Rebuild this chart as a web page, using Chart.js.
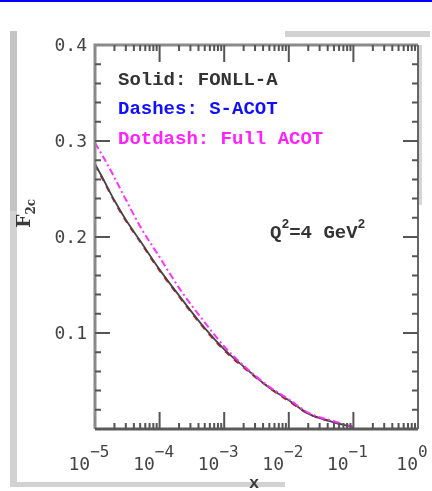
<!DOCTYPE html>
<html>
<head>
<meta charset="utf-8">
<script src="https://cdn.jsdelivr.net/npm/chart.js@4.4.1/dist/chart.umd.min.js"></script>
<style>
  html, body { margin: 0; padding: 0; background: #fff; }
  canvas { display: block; }
</style>
</head>
<body>
<canvas id="f2c-chart" width="432" height="491"></canvas>
<script>
// x values (log scale) and structure function values for each scheme
const xValues = [1e-5, 1.3e-5, 2e-5, 3e-5, 5e-5, 1e-4, 2e-4, 5e-4, 1e-3, 2e-3, 5e-3, 1e-2, 2e-2, 5e-2, 1e-1];
const fonllA  = [0.276, 0.262, 0.238, 0.218, 0.196, 0.166, 0.139, 0.105, 0.083, 0.065, 0.043, 0.030, 0.016, 0.007, 0.002];
const sAcot   = [0.275, 0.261, 0.237, 0.217, 0.195, 0.165, 0.138, 0.104, 0.082, 0.064, 0.043, 0.029, 0.016, 0.007, 0.002];
const fullAcot = [0.298, 0.285, 0.262, 0.239, 0.211, 0.179, 0.147, 0.111, 0.086, 0.066, 0.044, 0.031, 0.017, 0.008, 0.002];

// axis ticks
const yMajor = [0.1, 0.2, 0.3, 0.4];
const yMajorLabels = ['0.1', '0.2', '0.3', '0.4'];
const xDecades = [-5, -4, -3, -2, -1, 0];

const legendLines = [
    { text: 'Solid: FONLL-A', color: '#333333' },
    { text: 'Dashes: S-ACOT', color: '#1010ff' },
    { text: 'Dotdash: Full ACOT', color: '#ff22ff' }
];

function toPoints(ys) {
    return xValues.map((x, i) => ({ x: x, y: ys[i] }));
}

// frame, inward ticks, labels and page marks
const framePlugin = {
    id: 'frame',
    beforeDraw(chart) {
        const c = chart.ctx;
        c.save();
        c.fillStyle = '#ffffff';
        c.fillRect(0, 0, chart.width, chart.height);
        // page edge marks
        c.fillStyle = '#0000ff';
        c.fillRect(0, 0, 432, 2);
        c.fillStyle = '#c4c4c4';
        c.fillRect(10, 31, 7, 180);
        c.fillStyle = '#d2d2d2';
        c.fillRect(10, 211, 7, 276);
        c.fillRect(10, 482, 275, 5);
        c.fillRect(285, 31, 145, 6);
        c.fillStyle = '#d6d6d6';
        c.fillRect(419, 45, 3, 160);
        c.restore();
    },
    afterDraw(chart) {
        const c = chart.ctx;
        const xs = chart.scales.x;
        const ys = chart.scales.y;
        const a = chart.chartArea;
        c.save();

        // box
        c.lineWidth = 3;
        c.strokeStyle = '#8a8a8a';
        c.beginPath();
        c.moveTo(a.left, a.bottom); c.lineTo(a.left, a.top); c.lineTo(a.right, a.top);
        c.stroke();
        c.strokeStyle = '#5a5a5a';
        c.beginPath();
        c.moveTo(a.left, a.bottom); c.lineTo(a.right, a.bottom);
        c.stroke();
        c.lineWidth = 2;
        c.strokeStyle = '#666666';
        c.beginPath();
        c.moveTo(a.right, a.top); c.lineTo(a.right, a.bottom);
        c.stroke();

        // y ticks, both sides
        c.lineWidth = 2;
        c.strokeStyle = '#555555';
        for (let i = 1; i < 20; i++) {
            const v = i * 0.02;
            const py = ys.getPixelForValue(v);
            const len = (i % 5 === 0) ? 15 : 6;
            c.beginPath();
            c.moveTo(a.left, py); c.lineTo(a.left + len, py);
            c.moveTo(a.right, py); c.lineTo(a.right - len, py);
            c.stroke();
        }

        // x ticks, top and bottom
        xDecades.forEach((d, k) => {
            const major = Math.pow(10, d);
            const px = xs.getPixelForValue(major);
            if (k > 0 && k < xDecades.length - 1) {
                c.beginPath();
                c.moveTo(px, a.bottom); c.lineTo(px, a.bottom - 17);
                c.moveTo(px, a.top); c.lineTo(px, a.top + 17);
                c.stroke();
            }
            if (d < 0) {
                for (let m = 2; m <= 9; m++) {
                    const mx = xs.getPixelForValue(m * major);
                    c.beginPath();
                    c.moveTo(mx, a.bottom); c.lineTo(mx, a.bottom - 6);
                    c.moveTo(mx, a.top); c.lineTo(mx, a.top + 6);
                    c.stroke();
                }
            }
        });

        // y tick labels
        c.fillStyle = '#444444';
        c.font = '18px "DejaVu Sans Mono"';
        c.textAlign = 'right';
        c.textBaseline = 'middle';
        yMajor.forEach((v, i) => {
            c.fillText(yMajorLabels[i], a.left - 8, ys.getPixelForValue(v) + 1);
        });

        // x tick labels as 10^n
        c.textBaseline = 'alphabetic';
        c.textAlign = 'left';
        xDecades.forEach(d => {
            const px = xs.getPixelForValue(Math.pow(10, d));
            const base = '10';
            const sup = d === 0 ? '0' : '\u2212' + Math.abs(d);
            c.font = '18px "DejaVu Sans Mono"';
            const wb = c.measureText(base).width;
            c.font = '16px "DejaVu Sans Mono"';
            const ws = c.measureText(sup).width;
            const x0 = px - 6 - (wb + ws) / 2;
            c.font = '18px "DejaVu Sans Mono"';
            c.fillText(base, x0, 470);
            c.font = '16px "DejaVu Sans Mono"';
            c.fillText(sup, x0 + wb, 457);
        });

        // axis titles
        c.fillStyle = '#3a3a3a';
        c.font = 'bold 17px "Liberation Mono"';
        c.textAlign = 'center';
        c.fillText('x', 254, 488);

        c.save();
        c.translate(30, 228);
        c.rotate(-Math.PI / 2);
        c.textAlign = 'left';
        c.font = 'bold 19px "DejaVu Serif"';
        c.fillText('F', 0, 0);
        const wf = c.measureText('F').width;
        c.font = 'bold 12px "DejaVu Serif"';
        c.fillText('2c', wf, 5);
        c.restore();

        // scheme key
        c.textAlign = 'left';
        c.textBaseline = 'middle';
        c.font = 'bold 19px "Liberation Mono"';
        legendLines.forEach((l, i) => {
            c.fillStyle = l.color;
            c.fillText(l.text, 118, 80 + i * 29.5);
        });

        // scale annotation
        c.fillStyle = '#333333';
        c.textBaseline = 'alphabetic';
        c.font = 'bold 19px "Liberation Mono"';
        let tx = 270;
        c.fillText('Q', tx, 238);
        tx += c.measureText('Q').width;
        c.font = 'bold 13px "Liberation Mono"';
        c.fillText('2', tx, 228);
        tx += c.measureText('2').width;
        c.font = 'bold 19px "Liberation Mono"';
        c.fillText('=4 GeV', tx, 238);
        tx += c.measureText('=4 GeV').width;
        c.font = 'bold 13px "Liberation Mono"';
        c.fillText('2', tx, 228);

        c.restore();
    }
};

const ctx = document.getElementById('f2c-chart').getContext('2d');
const f2cChart = new Chart(ctx, {
    type: 'line',
    data: {
        datasets: [
            {
                label: 'Full ACOT',
                data: toPoints(fullAcot),
                borderColor: '#ff33ff',
                borderWidth: 2,
                borderDash: [7, 3, 2, 3],
                cubicInterpolationMode: 'monotone'
            },
            {
                label: 'FONLL-A',
                data: toPoints(fonllA),
                borderColor: '#444444',
                borderWidth: 1.8,
                cubicInterpolationMode: 'monotone'
            },
            {
                label: 'S-ACOT',
                data: toPoints(sAcot),
                borderColor: '#e81020',
                borderWidth: 2,
                borderDash: [6, 6],
                cubicInterpolationMode: 'monotone'
            }
        ]
    },
    options: {
        responsive: false,
        animation: false,
        devicePixelRatio: 1,
        layout: {
            padding: { left: 95, top: 45, right: 14, bottom: 62 }
        },
        elements: {
            point: { radius: 0 }
        },
        plugins: {
            legend: { display: false },
            tooltip: { enabled: false }
        },
        scales: {
            x: {
                type: 'logarithmic',
                min: 1e-5,
                max: 1,
                display: false
            },
            y: {
                type: 'linear',
                min: 0,
                max: 0.4,
                display: false
            }
        }
    },
    plugins: [framePlugin]
});
</script>
</body>
</html>
